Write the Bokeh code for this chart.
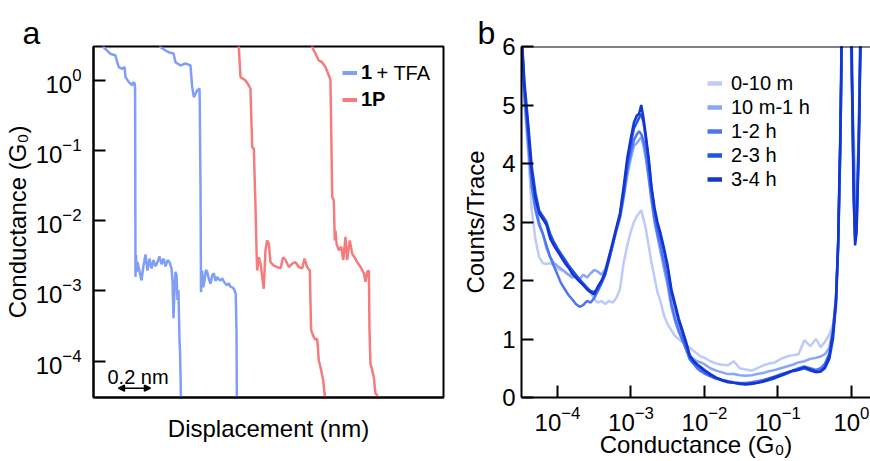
from bokeh.plotting import figure
from bokeh.models import Range1d, FixedTicker, Legend, LegendItem, Label, Arrow, NormalHead, Span
from bokeh.layouts import row
from bokeh.embed import file_html
from bokeh.resources import INLINE

FONT = "Liberation Sans"

# ---------------- Panel a: single traces (displacement in nm, log10 conductance in G0) ----------------
TFA_1_X = [0.050, 0.065, 0.106, 0.1375, 0.148, 0.158, 0.179, 0.194, 0.200, 0.221, 0.242, 0.248, 0.258, 0.260,
           0.2625, 0.266, 0.269, 0.275, 0.3, 0.3125, 0.325, 0.3375, 0.35, 0.3625, 0.375, 0.3875, 0.4, 0.4125,
           0.425, 0.4375, 0.45, 0.4625, 0.475, 0.4875, 0.494, 0.5, 0.506, 0.5125, 0.519, 0.525, 0.531, 0.5375,
           0.5406, 0.544, 0.547, 0.560]
TFA_1_LOGG = [0.70, 0.47, 0.38, 0.356, 0.261, 0.19, 0.166, 0.19, 0.047, -0.024, -0.071, -0.024, -0.047, -0.14,
              -2.80, -2.49, -2.73, -2.59, -2.85, -2.64, -2.48, -2.71, -2.54, -2.68, -2.56, -2.65, -2.59, -2.51,
              -2.62, -2.54, -2.65, -2.56, -2.59, -2.68, -2.85, -3.39, -2.99, -2.73, -2.78, -3.13, -2.99, -3.70,
              -3.85, -4.20, -4.60, -4.90]

TFA_2_X = [0.400, 0.419, 0.45, 0.469, 0.5, 0.5125, 0.544, 0.575, 0.606, 0.617, 0.627, 0.648, 0.6625, 0.664,
           0.669, 0.672, 0.679, 0.686, 0.694, 0.703, 0.711, 0.721, 0.731, 0.742, 0.752, 0.763, 0.773, 0.784,
           0.794, 0.805, 0.815, 0.825, 0.835, 0.846, 0.856, 0.867, 0.877, 0.889, 0.894, 0.896, 0.900]
TFA_2_LOGG = [0.70, 0.474, 0.427, 0.403, 0.385, 0.26, 0.214, 0.242, 0.214, -0.095, -0.238, -0.142, -0.114, -0.285,
              -1.59, -3.02, -2.71, -2.95, -2.85, -2.70, -2.73, -2.83, -2.90, -2.78, -2.75, -2.86, -2.80, -2.84,
              -2.85, -2.82, -2.87, -2.90, -2.92, -2.89, -2.94, -2.95, -2.97, -3.04, -3.60, -4.60, -4.90]

P1_1_X = [0.895, 0.908, 0.919, 0.95, 0.971, 0.981, 0.992, 1.002, 1.0125, 1.019, 1.023, 1.033, 1.044, 1.064,
          1.075, 1.085, 1.096, 1.106, 1.127, 1.148, 1.169, 1.185, 1.2, 1.221, 1.242, 1.2625, 1.283, 1.304,
          1.319, 1.335, 1.352, 1.36, 1.377, 1.3875, 1.398, 1.408, 1.423, 1.435, 1.444, 1.45, 1.46]
P1_1_LOGG = [0.70, 0.474, 0.047, 0.0, -0.071, -0.118, -0.95, -0.973, -1.80, -2.42, -2.71, -2.52, -2.61, -2.97,
             -2.42, -2.28, -2.33, -2.59, -2.64, -2.66, -2.68, -2.52, -2.56, -2.66, -2.61, -2.59, -2.66, -2.68,
             -2.54, -2.66, -2.71, -3.56, -3.66, -3.70, -3.68, -3.99, -4.13, -4.27, -4.46, -4.56, -4.90]

P1_2_X = [1.355, 1.367, 1.3875, 1.408, 1.429, 1.45, 1.471, 1.481, 1.486, 1.492, 1.502, 1.508, 1.5125, 1.519,
          1.533, 1.548, 1.561, 1.575, 1.585, 1.602, 1.617, 1.631, 1.648, 1.669, 1.69, 1.70, 1.71, 1.721,
          1.725, 1.731, 1.742, 1.752, 1.762, 1.773, 1.783, 1.79]
P1_2_LOGG = [0.70, 0.474, 0.38, 0.285, 0.26, 0.19, 0.071, 0.0, -0.76, -1.66, -1.71, -2.28, -2.14, -2.33,
             -2.42, -2.37, -2.56, -2.23, -2.56, -2.28, -2.47, -2.52, -2.59, -2.66, -2.75, -2.87, -2.73, -2.71,
             -3.56, -4.04, -4.13, -4.23, -4.46, -4.49, -4.56, -4.90]

SCALE_BAR_NM = [0.156, 0.356]

COL_TFA = "#7f9ef7"
COL_1P = "#f47c7c"

# ---------------- Panel b: 1D conductance histograms ----------------
G_LOG = [
    -4.49, -4.45, -4.40, -4.35, -4.30, -4.25, -4.20, -4.15, -4.10, -4.05,
    -4.00, -3.95, -3.90, -3.85, -3.80, -3.75, -3.70, -3.65, -3.60, -3.55,
    -3.50, -3.45, -3.40, -3.35, -3.30, -3.25, -3.20, -3.15, -3.10, -3.05,
    -3.00, -2.96, -2.92, -2.89, -2.86, -2.83, -2.80, -2.76, -2.72, -2.68,
    -2.64, -2.60, -2.55, -2.50, -2.45, -2.40, -2.35, -2.30, -2.25, -2.20,
    -2.15, -2.10, -2.05, -2.00, -1.92, -1.84, -1.76, -1.68, -1.60, -1.52,
    -1.44, -1.36, -1.28, -1.20, -1.12, -1.04, -0.96, -0.88, -0.80, -0.72,
    -0.64, -0.56, -0.48, -0.42, -0.36, -0.30, -0.25, -0.21, -0.18, -0.15,
    -0.12, -0.09, -0.06, -0.03, 0.00, 0.03, 0.05, 0.07, 0.10, 0.13,
    0.16, 0.20]

H_0_10M = [
    6.1, 5.0, 4.2, 3.2, 2.7, 2.4, 2.3, 2.28, 2.3, 2.25,
    2.2, 2.18, 2.15, 2.1, 2.1, 2.05, 2.0, 1.95, 1.85, 1.8,
    1.68, 1.62, 1.65, 1.6, 1.65, 1.62, 1.7, 1.85, 2.3, 2.6,
    2.85, 3.0, 3.1, 3.15, 3.2, 3.05, 2.9, 2.6, 2.3, 2.05,
    1.8, 1.65, 1.4, 1.25, 1.15, 1.05, 1.0, 0.95, 0.9, 0.85,
    0.8, 0.75, 0.7, 0.68, 0.62, 0.58, 0.56, 0.55, 0.62, 0.5,
    0.48, 0.46, 0.5, 0.55, 0.58, 0.6, 0.66, 0.7, 0.72, 0.74,
    0.98, 0.88, 1.0, 0.86, 0.95, 1.08, 1.25, 1.5, 2.5, 4.2,
    7.0, 10.0, 11.0, 8.0, 5.5, 4.6, 3.8, 3.2, 4.6, 7.2,
    9.0, 10.0]

H_10M_1H = [
    6.1, 5.1, 4.3, 3.6, 3.3, 3.0, 2.8, 2.55, 2.4, 2.3,
    2.25, 2.2, 2.15, 2.1, 2.05, 2.08, 2.02, 2.1, 2.05, 2.12,
    2.18, 2.15, 2.1, 2.2, 2.4, 2.62, 2.85, 3.05, 3.4, 3.8,
    4.1, 4.3, 4.35, 4.4, 4.45, 4.3, 4.1, 3.75, 3.35, 3.0,
    2.75, 2.5, 2.2, 1.9, 1.55, 1.3, 1.12, 0.98, 0.85, 0.72,
    0.66, 0.62, 0.6, 0.57, 0.5, 0.46, 0.43, 0.4, 0.4, 0.38,
    0.37, 0.38, 0.4, 0.42, 0.45, 0.47, 0.5, 0.53, 0.56, 0.6,
    0.62, 0.66, 0.68, 0.7, 0.74, 0.85, 1.2, 1.7, 2.6, 4.3,
    7.0, 11.0, 12.0, 8.5, 5.8, 4.2, 3.4, 3.3, 4.5, 7.0,
    9.0, 10.0]

H_1_2H = [
    6.1, 5.2, 4.4, 3.6, 3.2, 2.95, 2.8, 2.6, 2.4, 2.25,
    2.1, 1.95, 1.85, 1.75, 1.68, 1.6, 1.55, 1.58, 1.65, 1.62,
    1.7, 1.82, 1.95, 2.1, 2.35, 2.6, 2.85, 3.1, 3.45, 3.9,
    4.2, 4.4, 4.5, 4.55, 4.5, 4.4, 4.2, 3.8, 3.4, 3.05,
    2.8, 2.6, 2.3, 2.0, 1.6, 1.35, 1.15, 0.98, 0.82, 0.65,
    0.58, 0.5, 0.45, 0.41, 0.36, 0.32, 0.3, 0.28, 0.26, 0.25,
    0.25, 0.26, 0.28, 0.3, 0.33, 0.36, 0.4, 0.43, 0.46, 0.5,
    0.53, 0.5, 0.47, 0.5, 0.58, 0.75, 1.15, 1.7, 2.6, 4.4,
    7.0, 11.0, 13.0, 9.0, 6.0, 3.8, 3.0, 3.1, 4.4, 6.8,
    9.0, 10.0]

H_2_3H = [
    6.2, 5.4, 4.7, 3.95, 3.5, 3.2, 3.1, 3.0, 2.8, 2.66,
    2.55, 2.45, 2.36, 2.26, 2.18, 2.1, 2.02, 1.95, 1.88, 1.82,
    1.8, 1.86, 1.98, 2.12, 2.35, 2.6, 2.88, 3.1, 3.5, 4.0,
    4.35, 4.6, 4.7, 4.78, 4.85, 4.7, 4.45, 4.05, 3.55, 3.2,
    2.95, 2.75, 2.5, 2.2, 1.8, 1.55, 1.3, 1.1, 0.9, 0.7,
    0.6, 0.55, 0.5, 0.45, 0.38, 0.33, 0.29, 0.26, 0.25, 0.23,
    0.22, 0.23, 0.25, 0.27, 0.3, 0.33, 0.37, 0.41, 0.45, 0.47,
    0.5, 0.46, 0.43, 0.44, 0.5, 0.66, 1.0, 1.6, 2.6, 4.4,
    7.2, 11.0, 13.0, 9.5, 6.0, 3.4, 2.7, 2.9, 4.3, 6.6,
    9.0, 10.0]

H_3_4H = [
    6.3, 5.3, 4.6, 3.85, 3.4, 3.15, 3.05, 2.95, 2.72, 2.6,
    2.5, 2.4, 2.3, 2.22, 2.12, 2.05, 1.98, 1.92, 1.85, 1.8,
    1.76, 1.9, 2.0, 2.15, 2.4, 2.65, 2.9, 3.15, 3.6, 4.1,
    4.45, 4.7, 4.82, 4.85, 5.0, 4.78, 4.5, 4.1, 3.6, 3.25,
    3.0, 2.82, 2.55, 2.25, 1.85, 1.6, 1.35, 1.15, 0.95, 0.72,
    0.63, 0.57, 0.52, 0.47, 0.40, 0.34, 0.30, 0.27, 0.25, 0.24,
    0.23, 0.24, 0.25, 0.28, 0.31, 0.35, 0.38, 0.42, 0.46, 0.48,
    0.52, 0.48, 0.44, 0.45, 0.52, 0.7, 1.1, 1.65, 2.7, 4.6,
    7.5, 12.0, 14.0, 10.0, 6.5, 3.6, 2.6, 2.8, 4.2, 6.5,
    9.0, 10.0]

SERIES_LABELS = ["0-10 m", "10 m-1 h", "1-2 h", "2-3 h", "3-4 h"]
SERIES_VALUES = [H_0_10M, H_10M_1H, H_1_2H, H_2_3H, H_3_4H]
SERIES_COLORS = ["#bccbf9", "#8aa6f6", "#4f76f2", "#2251ee", "#1236cf"]

DECADES_A = [1e-4, 1e-3, 1e-2, 1e-1, 1e0]
DECADES_B = [1e-4, 1e-3, 1e-2, 1e-1, 1e0]
COUNTS_TICKS = [0, 1, 2, 3, 4, 5, 6]


def style_axis(ax, size="24px"):
    ax.axis_line_width = 2
    ax.axis_line_color = "black"
    ax.major_tick_in = 12
    ax.major_tick_out = 0
    ax.major_tick_line_width = 2
    ax.minor_tick_line_color = None
    ax.major_label_text_font = FONT
    ax.major_label_text_font_size = size
    ax.major_label_text_color = "black"
    ax.axis_label_text_font = FONT
    ax.axis_label_text_font_size = "24px"
    ax.axis_label_text_font_style = "normal"
    ax.axis_label_text_color = "black"


def style_title(p, text, offset):
    p.title.text = text
    p.title.align = "left"
    p.title.offset = offset
    p.title.standoff = -9
    p.title.text_font = FONT
    p.title.text_font_size = "32px"
    p.title.text_font_style = "normal"
    p.title.text_color = "black"


# ---------------- figure a ----------------
pa = figure(width=450, height=461, x_range=Range1d(0, 2.1875),
            y_range=Range1d(10 ** -4.52, 10 ** 0.484), y_axis_type="log",
            output_backend="svg", toolbar_location=None,
            min_border_left=93, min_border_right=7, min_border_top=46, min_border_bottom=64)
pa.grid.visible = False
pa.outline_line_color = "black"
pa.outline_line_width = 2
pa.background_fill_color = "white"
pa.border_fill_color = "white"
style_title(pa, "a", -71)

for xs, lg, col in [(TFA_1_X, TFA_1_LOGG, COL_TFA), (TFA_2_X, TFA_2_LOGG, COL_TFA),
                    (P1_1_X, P1_1_LOGG, COL_1P), (P1_2_X, P1_2_LOGG, COL_1P)]:
    pa.line(xs, [10 ** v for v in lg], line_color=col, line_width=2.5)

# legend swatch renderers (kept outside the visible x-range)
leg_tfa = pa.line([-1, -0.9], [1, 1], line_color=COL_TFA, line_width=4)
leg_1p = pa.line([-1, -0.9], [1, 1], line_color=COL_1P, line_width=4)

style_axis(pa.yaxis[0])
pa.yaxis[0].ticker = FixedTicker(ticks=DECADES_A)
pa.yaxis[0].major_label_standoff = 12
pa.yaxis[0].axis_label = "Conductance (G\u2080)"
pa.yaxis[0].axis_label_standoff = 2

style_axis(pa.xaxis[0])
pa.xaxis[0].ticker = FixedTicker(ticks=[])
pa.xaxis[0].axis_label = "Displacement (nm)"
pa.xaxis[0].axis_label_standoff = 17

legend_a = Legend(items=[LegendItem(label="1", renderers=[leg_tfa]),
                         LegendItem(label="1P", renderers=[leg_1p])],
                  location=(249, 284), orientation="vertical",
                  label_text_font=FONT, label_text_font_size="20px", label_text_font_style="bold",
                  label_text_color="black",
                  label_height=27, glyph_height=27, glyph_width=15, label_standoff=4,
                  spacing=0, padding=0, margin=0, border_line_color=None, background_fill_alpha=0)
pa.add_layout(legend_a)
pa.add_layout(Label(x=283, y=325, x_units="screen", y_units="screen", text="+ TFA",
                    text_font=FONT, text_font_size="20px", text_baseline="middle", text_color="black"))

pa.add_layout(Arrow(start=NormalHead(size=6, line_width=1.5), end=NormalHead(size=6, line_width=1.5),
                    x_start=SCALE_BAR_NM[0], x_end=SCALE_BAR_NM[1], y_start=4.1e-5, y_end=4.1e-5,
                    line_width=1.5, line_color="black"))
pa.add_layout(Label(x=0.0875, y=6.0e-5, text="0.2 nm", text_font=FONT, text_font_size="20px",
                    text_baseline="alphabetic", text_color="black"))

# ---------------- figure b ----------------
pb = figure(width=420, height=461, x_range=Range1d(10 ** -4.49, 10 ** 0.26),
            y_range=Range1d(0, 6), x_axis_type="log",
            output_backend="svg", toolbar_location=None,
            min_border_left=71, min_border_right=0, min_border_top=46, min_border_bottom=64)
pb.grid.visible = False
pb.outline_line_color = None
pb.background_fill_color = "white"
pb.border_fill_color = "white"
style_title(pb, "b", -44)

for vals, col in zip(SERIES_VALUES, SERIES_COLORS):
    pb.line([10 ** g for g in G_LOG], vals, line_color=col, line_width=2.5)
glyphs_b = [pb.line([1e-6, 2e-6], [1, 1], line_color=col, line_width=4.5) for col in SERIES_COLORS]

pb.add_layout(Span(location=6, dimension="width", line_color="black", line_width=2))

style_axis(pb.yaxis[0])
pb.yaxis[0].ticker = FixedTicker(ticks=COUNTS_TICKS)
pb.yaxis[0].major_label_standoff = 6
pb.yaxis[0].axis_label = "Counts/Trace"
pb.yaxis[0].axis_label_standoff = 10

style_axis(pb.xaxis[0])
pb.xaxis[0].ticker = FixedTicker(ticks=DECADES_B)
pb.xaxis[0].major_label_standoff = 8
pb.xaxis[0].axis_label = "Conductance (G\u2080)"
pb.xaxis[0].axis_label_standoff = -3

legend_b = Legend(items=[LegendItem(label=l, renderers=[r]) for l, r in zip(SERIES_LABELS, glyphs_b)],
                  location=(186, 206), orientation="vertical",
                  label_text_font=FONT, label_text_font_size="20px", label_text_color="black",
                  label_height=24, glyph_height=24, glyph_width=15, label_standoff=9,
                  spacing=0, padding=0, margin=0, border_line_color=None, background_fill_alpha=0)
pb.add_layout(legend_b)

layout = row(pa, pb)
open("out.html", "w").write(file_html(layout, INLINE))
